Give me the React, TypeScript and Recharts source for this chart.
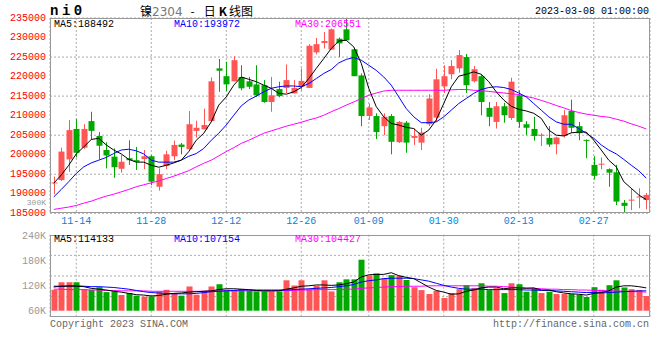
import React from 'react';
import { ComposedChart, Bar, Line, XAxis, YAxis, CartesianGrid } from 'recharts';

const MONO = "'Liberation Mono','DejaVu Sans Mono',monospace";
const RED = '#ff5555';
const GREEN = '#00a800';
const GRID = '#aaaaaa';

const dates = ['11-09','11-10','11-11','11-14','11-15','11-16','11-17','11-18','11-21','11-22','11-23','11-24','11-25','11-28','11-29','11-30','12-01','12-02','12-05','12-06','12-07','12-08','12-09','12-12','12-13','12-14','12-15','12-16','12-19','12-20','12-21','12-22','12-23','12-26','12-27','12-28','12-29','12-30','01-03','01-04','01-05','01-06','01-09','01-10','01-11','01-12','01-13','01-16','01-17','01-18','01-19','01-20','01-30','01-31','02-01','02-02','02-03','02-06','02-07','02-08','02-09','02-10','02-13','02-14','02-15','02-16','02-17','02-20','02-21','02-22','02-23','02-24','02-27','02-28','03-01','03-02','03-03','03-06','03-07','03-08'];

const openP = [192800,193500,198800,206600,201800,208600,204800,201200,199500,196400,199100,198600,198900,199600,191800,197100,199600,202600,201400,206100,206500,208600,222100,220100,218800,219900,218800,218000,217800,213500,216800,217100,215700,217400,217100,226200,228600,226900,229700,232100,227000,220300,209900,209900,207300,209900,203200,208200,204300,203100,207800,209500,217500,220600,222100,225000,218800,220100,212000,208400,212400,209400,215200,207800,206600,204900,204300,202700,204800,211200,207300,203800,197400,197500,196300,195500,187700,188300,189100,188400];
const highP = [194400,201800,208900,209100,207800,211000,205800,203200,201600,199900,203700,202000,201200,199900,196500,201000,203600,203000,211200,208700,211800,219800,224500,223800,225200,222900,219900,222900,219100,219900,218700,223100,219100,222100,228300,229900,231400,232300,230000,234900,227200,220800,213100,210600,210600,210400,208600,208600,206700,206900,215500,222000,222900,224200,226800,225800,222700,220500,213500,213500,213300,219700,216500,208600,209700,205500,207300,204600,211400,214100,208400,203900,199600,199300,196500,197400,188400,191400,191400,190200];
const lowP = [189900,193300,195600,199300,201500,203900,198800,196500,194100,195400,197400,196100,196300,192200,190800,196300,198600,200100,201400,204400,206500,208600,216100,216300,218800,216500,216800,214800,213300,211000,214700,215800,215700,216500,217100,225700,227200,226900,225000,229200,220100,207300,208900,204000,205000,200100,203000,200500,202500,201200,207300,208400,215800,219300,221000,215800,218500,210100,207300,206700,208200,208900,206900,205000,203600,202200,202000,200100,204400,205600,203700,199100,193700,196300,191800,187100,185000,185800,186300,186000];
const closeP = [192900,200800,206300,200500,206600,206100,202300,199800,196800,198200,198600,198200,199600,193100,195000,200100,202500,202000,207800,206900,207600,218800,221500,218000,224200,217000,217400,215200,213500,215200,215000,219100,217100,218900,227900,228300,229100,232100,228500,229300,220100,209900,212100,205800,209700,203300,208400,203100,204800,205700,214400,219300,220100,222700,225500,217800,221900,213500,209700,212400,210100,218700,208400,206900,204800,205100,202600,204400,210100,206900,205500,203600,194600,197700,195400,188000,186900,188500,189300,189700];

const ma5K = [192.7,194.8,197.3,200.2,202.0,203.9,204.2,202.5,201.2,200.2,198.8,198.1,198.1,197.3,196.8,197.3,197.9,198.6,200.8,203.7,205.5,208.4,212.7,214.8,217.8,219.9,219.3,218.7,217.8,217.0,215.7,215.5,216.1,217.2,219.5,222.1,224.6,227.2,229.1,229.3,227.6,223.4,217.0,212.3,209.7,208.0,207.6,207.0,206.7,205.0,206.3,208.9,213.1,217.4,220.1,220.6,221.2,220.6,218.7,216.1,214.0,212.4,211.6,211.2,210.6,209.3,206.3,205.0,204.8,205.6,205.8,205.8,203.7,201.2,198.6,196.9,193.1,191.4,189.7,188.5];
const ma10K = [189.2,191.1,193.1,195.2,196.9,197.9,198.6,199.3,200.3,201.2,201.4,201.0,200.2,198.6,198.1,198.1,198.1,198.6,199.6,200.3,201.6,203.7,205.5,207.6,210.1,212.5,214.0,215.0,216.1,217.0,217.4,217.6,217.6,217.4,218.2,219.5,220.8,221.8,223.5,224.4,224.9,224.2,222.9,221.6,219.9,217.8,214.8,211.8,209.7,208.2,208.2,208.4,209.7,211.4,213.1,214.4,215.7,216.7,217.2,217.4,217.2,216.7,215.8,214.8,213.1,211.4,209.7,208.4,207.8,207.8,206.7,205.5,204.2,202.5,201.2,200.2,198.8,197.3,195.9,194.0];
const ma30K = [186.0,186.3,186.6,187.0,187.6,188.1,188.8,189.4,189.9,190.5,191.1,191.8,192.3,192.8,193.3,193.9,194.5,195.2,195.9,196.9,197.8,198.6,199.7,200.8,201.8,202.9,203.7,204.6,205.5,206.1,206.7,207.3,207.8,208.3,208.9,209.4,210.1,211.0,211.8,212.7,213.5,214.4,215.2,215.8,216.3,216.5,216.5,216.5,216.5,216.5,216.5,216.5,216.5,216.6,216.7,216.7,216.5,216.4,216.2,216.0,215.8,215.6,215.4,214.9,214.5,213.9,213.3,212.6,212.0,211.3,210.8,210.4,210.1,209.8,209.6,209.1,208.6,207.9,207.3,206.6];

const volK = [109.5,127.4,127.4,127.4,111.0,109.5,115.7,104.1,105.7,97.2,101.8,95.6,93.3,94.1,105.7,109.5,101.8,95.6,117.4,97.9,107.2,117.4,122.7,109.5,108.8,111.0,107.2,105.7,105.7,105.7,105.7,132.0,119.7,132.0,111.0,118.9,132.0,105.7,127.4,134.3,134.3,180.8,142.9,148.3,136.6,144.3,142.9,132.7,115.7,108.8,99.5,107.2,90.2,101.8,111.0,120.4,113.4,125.0,108.8,113.4,101.8,125.0,122.7,104.9,113.4,101.8,104.9,99.5,99.5,99.5,97.9,92.5,115.7,109.5,120.4,132.0,115.0,111.0,108.8,94.8];
const volMa5K = [118,118,118,118,117,113,111,109,106,104,101,98,97,95,96,99,101,102,104,105,106,107,110,112,112,111,110,108,107,107,107,111,114,118,119,121,121,120,121,124,128,140,145,146,146,150,143,139,136,126,116,108,104,99,100,106,109,114,116,116,112,114,114,113,114,109,109,105,102,100,99,97,101,103,107,116,119,119,117,114];
const volMa10K = [116,118,119,119,118,117,117,116,115,113,111,108,105,103,102,101,100,100,100,101,103,105,106,107,108,109,109,109,109,109,109,109,110,111,112,113,114,115,117,119,122,128,131,133,136,137,137,137,136,133,130,125,120,116,113,111,111,111,110,110,110,110,110,109,109,108,108,107,106,105,104,103,103,102,103,104,105,106,107,107];
const volMa30K = [111,111,110,110,110,109,109,108,108,107,107,107,107,106,106,106,106,106,106,106,106,107,107,107,107,107,107,107,107,107,108,108,108,109,109,110,110,110,110,111,111,113,114,115,116,117,117,118,118,118,119,119,119,119,119,119,119,119,118,118,117,116,115,114,113,112,111,111,110,110,109,109,108,108,107,107,106,105,105,104];

const priceTicks = [185000,190000,195000,200000,205000,210000,215000,220000,225000,230000,235000];
const dateTicks = ['11-14','11-28','12-12','12-26','01-09','01-30','02-13','02-27'];
const volTicks = [60000,120000,180000,240000];
const VOL_BASE = 60000;

const data = dates.map((d, i) => ({
  date: d,
  open: openP[i],
  high: highP[i],
  low: lowP[i],
  close: closeP[i],
  ma5: ma5K[i] * 1000,
  ma10: ma10K[i] * 1000,
  ma30: ma30K[i] * 1000,
  vol: volK[i] * 1000,
  vma5: volMa5K[i] * 1000,
  vma10: volMa10K[i] * 1000,
  vma30: volMa30K[i] * 1000,
}));

const Candle = (props: any) => {
  const { x, y, width, height, payload } = props;
  if (x == null || y == null || !payload) return null;
  const { open, close, high, low } = payload;
  const up = close >= open;
  const color = up ? RED : GREEN;
  const span = high - low;
  const toPx = (v: number) => (span === 0 ? y : y + ((high - v) / span) * height);
  const cx = Math.round(x + width / 2);
  const top = toPx(Math.max(open, close));
  const bot = toPx(Math.min(open, close));
  return (
    <g>
      <line x1={cx + 0.5} x2={cx + 0.5} y1={y} y2={y + height} stroke={color} strokeWidth={1} />
      <rect x={cx - 2.5} y={top} width={6} height={Math.max(1, bot - top)} fill={color} />
    </g>
  );
};

const VolBar = (props: any) => {
  const { x, y, width, height, payload } = props;
  if (x == null || y == null || !payload) return null;
  const color = payload.close >= payload.open ? RED : GREEN;
  const cx = Math.round(x + width / 2);
  return <rect x={cx - 2.5} y={y} width={6} height={height} fill={color} />;
};

const Txt = ({ x, y, color = '#000', size = 10, anchor = 'left', bold = false, family = MONO, spacing = 0, children }: any) => (
  <div
    style={{
      position: 'absolute',
      top: y - size / 2,
      ...(anchor === 'left' ? { left: x } : { right: 660 - x }),
      fontFamily: family,
      fontSize: size,
      lineHeight: `${size}px`,
      color,
      fontWeight: bold ? 'bold' : 'normal',
      letterSpacing: spacing,
      whiteSpace: 'nowrap',
      pointerEvents: 'none',
    }}
  >
    {children}
  </div>
);

export default function App() {
  return (
    <div style={{ position: 'absolute', left: 0, top: 0, width: 660, height: 360, background: '#fff', overflow: 'hidden' }}>
      <div style={{ position: 'absolute', left: 0, top: 0 }}>
        <ComposedChart width={660} height={230} data={data} margin={{ top: 18, right: 10, left: 0, bottom: 0 }}>
          <CartesianGrid stroke={GRID} strokeDasharray="2 2" />
          <XAxis
            dataKey="date"
            ticks={dateTicks}
            interval={0}
            height={16.7}
            tickSize={0}
            tickMargin={4}
            axisLine={false}
            tick={{ fill: '#0a7fd8', fontSize: 10, fontFamily: MONO }}
          />
          <YAxis
            domain={[185000, 235000]}
            ticks={priceTicks}
            width={50}
            tickSize={0}
            tickMargin={4}
            axisLine={false}
            allowDataOverflow
            tick={{ fill: '#ff0000', fontSize: 10, fontFamily: MONO, dy: -1 }}
          />
          <Bar dataKey={(d: any) => [d.low, d.high]} shape={<Candle />} isAnimationActive={false} />
          <Line dataKey="ma30" stroke="#ff00ff" strokeWidth={1} dot={false} isAnimationActive={false} />
          <Line dataKey="ma10" stroke="#0000ff" strokeWidth={1} dot={false} isAnimationActive={false} />
          <Line dataKey="ma5" stroke="#000000" strokeWidth={1} dot={false} isAnimationActive={false} />
        </ComposedChart>
      </div>
      <div style={{ position: 'absolute', left: 0, top: 230 }}>
        <ComposedChart width={660} height={100} data={data} margin={{ top: 4.7, right: 10, left: 0, bottom: 12.7 }}>
          <CartesianGrid
            stroke={GRID}
            strokeDasharray="2 2"
            horizontalCoordinatesGenerator={({ offset }: any) => [1, 2, 3].map((k) => offset.top + (offset.height * k) / 4)}
          />
          <XAxis dataKey="date" ticks={dateTicks} interval={0} hide />
          <YAxis
            domain={[44400, 240000]}
            ticks={volTicks}
            width={50}
            tickSize={0}
            tickMargin={4}
            axisLine={false}
            allowDataOverflow
            tickFormatter={(v: number) => `${Math.round(v / 1000)}K`}
            tick={{ fill: '#999999', fontSize: 10, fontFamily: MONO }}
          />
          <Bar dataKey={(d: any) => [VOL_BASE, d.vol]} shape={<VolBar />} isAnimationActive={false} />
          <Line dataKey="vma30" stroke="#ff00ff" strokeWidth={1} dot={false} isAnimationActive={false} />
          <Line dataKey="vma10" stroke="#0000ff" strokeWidth={1} dot={false} isAnimationActive={false} />
          <Line dataKey="vma5" stroke="#000000" strokeWidth={1} dot={false} isAnimationActive={false} />
        </ComposedChart>
      </div>

      <div style={{ position: 'absolute', left: 50, top: 18, width: 600, height: 195.3, border: '1px solid #999', boxSizing: 'border-box', pointerEvents: 'none' }} />
      <div style={{ position: 'absolute', left: 50, top: 234.7, width: 600, height: 82.6, border: '1px solid #999', boxSizing: 'border-box', pointerEvents: 'none' }} />

      <Txt x={50} y={11} size={14} bold spacing={3.5}>ni0</Txt>
      <div style={{ position: 'absolute', left: 140, top: 4.5, fontFamily: "'Noto Sans CJK SC', sans-serif", fontSize: 12, lineHeight: '12px', whiteSpace: 'nowrap', color: '#000' }}>
        <span>镍</span>
        <span style={{ color: '#777', fontSize: 12, fontFamily: "'DejaVu Sans', sans-serif" }}>2304</span>
        <span style={{ marginLeft: 8, marginRight: 9 }}>-</span>
        <span>日</span>
        <span style={{ fontWeight: 'bold', marginLeft: 3, marginRight: 2 }}>K</span>
        <span>线图</span>
      </div>
      <Txt x={649} y={12} anchor="right" size={10}>2023-03-08 01:00:00</Txt>

      <Txt x={54} y={25.3}>MA5:188492</Txt>
      <Txt x={174} y={25.3} color="#0000ff">MA10:193972</Txt>
      <Txt x={295} y={25.3} color="#ff00ff">MA30:206551</Txt>
      <Txt x={46} y={203} anchor="right" size={8} color="#999">300K</Txt>

      <Txt x={54} y={239.5}>MA5:114133</Txt>
      <Txt x={174} y={239.5} color="#0000ff">MA10:107154</Txt>
      <Txt x={295} y={239.5} color="#ff00ff">MA30:104427</Txt>

      <Txt x={50} y={324.5} color="#666">Copyright 2023 SINA.COM</Txt>
      <Txt x={649} y={324.5} anchor="right" color="#666">http://finance.sina.com.cn</Txt>
    </div>
  );
}
